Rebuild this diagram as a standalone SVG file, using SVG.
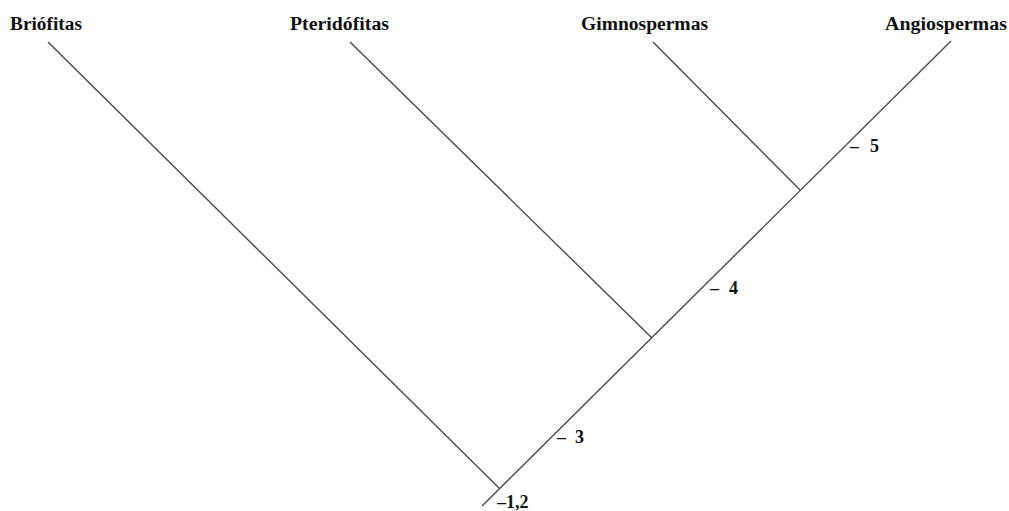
<svg xmlns="http://www.w3.org/2000/svg" width="1009" height="511" viewBox="0 0 1009 511">
<style>
.lbl{font-family:"Liberation Serif","Times New Roman",serif;font-weight:bold;font-size:18px;fill:#111}
.num{font-family:"Liberation Serif","Times New Roman",serif;font-weight:bold;font-size:18px;fill:#111}
.edge{stroke:#4a4a4a;stroke-width:1.4;fill:none}
</style>
<rect width="1009" height="511" fill="#fff"/>
<g id="connectors">
<line class="edge" x1="482" y1="506" x2="951" y2="41"/>
<line class="edge" x1="48" y1="42" x2="499" y2="488"/>
<line class="edge" x1="350" y1="42" x2="652" y2="338"/>
<line class="edge" x1="653" y1="42" x2="800" y2="190"/>
</g>
<g id="briofitas"><text class="lbl" x="10" y="30" textLength="72" lengthAdjust="spacingAndGlyphs">Briófitas</text></g>
<g id="pteridofitas"><text class="lbl" x="290" y="30" textLength="99" lengthAdjust="spacingAndGlyphs">Pteridófitas</text></g>
<g id="gimnospermas"><text class="lbl" x="581" y="30" textLength="127" lengthAdjust="spacingAndGlyphs">Gimnospermas</text></g>
<g id="angiospermas"><text class="lbl" x="885" y="30" textLength="122" lengthAdjust="spacingAndGlyphs">Angiospermas</text></g>
<g id="m5"><text class="num" y="152"><tspan x="850">–</tspan><tspan x="870">5</tspan></text></g>
<g id="m4"><text class="num" y="294"><tspan x="710">–</tspan><tspan x="729">4</tspan></text></g>
<g id="m3"><text class="num" y="443"><tspan x="557">–</tspan><tspan x="575">3</tspan></text></g>
<g id="m12"><text class="num" y="508"><tspan x="497">–</tspan><tspan x="506">1,2</tspan></text></g>
</svg>
